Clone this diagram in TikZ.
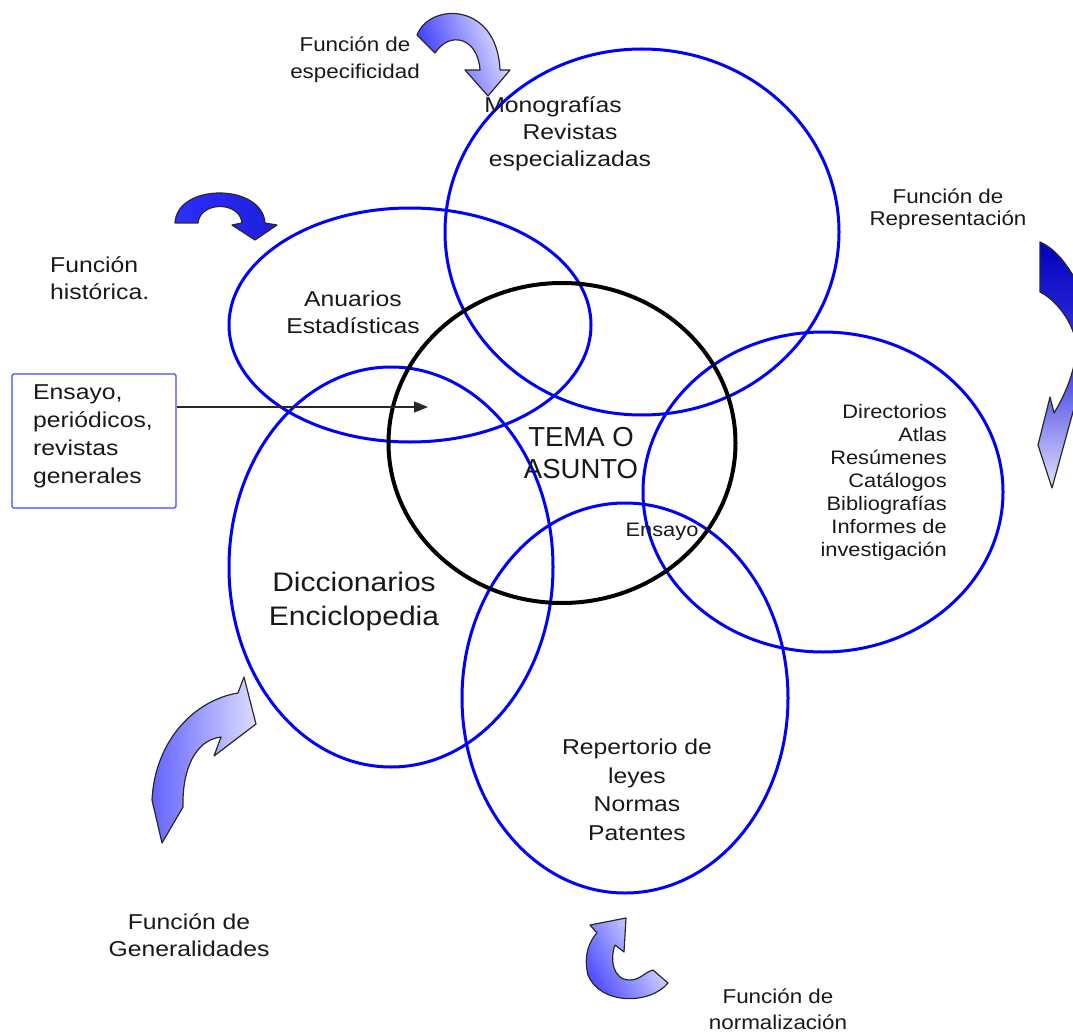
\documentclass[tikz,border=0pt]{standalone}
\usepackage{fontspec}
\setmainfont{Liberation Sans}[FakeStretch=1.12]
\newfontfamily\plainsans{Liberation Sans}
\newfontfamily\widesans{Liberation Sans}[FakeStretch=1.15]
\usetikzlibrary{shapes.geometric,arrows.meta}
\definecolor{ringblue}{RGB}{0,0,255}
\definecolor{boxblue}{RGB}{70,70,255}
\definecolor{txt}{RGB}{25,25,25}
\definecolor{outl}{RGB}{40,40,40}
\begin{document}
\begin{tikzpicture}[x=1pt,y=-1pt,
  ring/.style={draw=ringblue, line width=3pt, ellipse, inner sep=0pt},
  lbl/.style={text=txt, inner sep=0pt, align=center, font=\fontsize{20}{27}\selectfont},
  biglbl/.style={lbl, font=\widesans\fontsize{21.5}{27}\selectfont},
  curv/.style={draw=outl, line width=1.2pt, line join=round},
]
\useasboundingbox (0,0) rectangle (1073,1032);
\fill[white] (0,0) rectangle (1073,1032);

% blue ellipses
\node[ring, minimum width=394, minimum height=366] (mono) at (642,232) {};
\node[ring, minimum width=362, minimum height=234] (anu) at (410,325) {};
\node[ring, minimum width=360, minimum height=320] (dir) at (823,492) {};
\node[ring, minimum width=324, minimum height=400] (dic) at (391,567) {};
\node[ring, minimum width=326, minimum height=390] (rep) at (625,698) {};
% black circle
\node[draw=black, line width=4pt, ellipse, inner sep=0pt, minimum width=347, minimum height=320] (tema) at (562,443) {};

% box and arrow
\node[draw=boxblue, line width=1.2pt, rounded corners=1.5pt, inner sep=0pt, minimum width=164, minimum height=134] (box) at (94,441) {};
\node[biglbl, align=left, anchor=west, font=\widesans\fontsize{21.5}{28}\selectfont] (tbox) at (33,436) {Ensayo,\\periódicos,\\revistas\\generales};
\coordinate (arrtip) at (428,407);
\draw[draw=outl, line width=1.5pt, -{Triangle[length=14pt,width=11pt]}] (box.east |- arrtip) -- (arrtip);

% texts
\node[lbl] (fesp) at (355,60) {Función de\\especificidad};
\node[biglbl] (tmono) at (570,134) {Monografías\hspace*{34pt}\\Revistas\\especializadas};
\node[lbl, font=\fontsize{20}{22}\selectfont] (frep) at (948,209) {Función de\\Representación};
\node[biglbl, align=left, anchor=west] (fhist) at (50,278) {Función\\histórica.};
\node[biglbl] (tanu) at (353,312) {Anuarios\\Estadísticas};
\node[lbl, font=\plainsans\fontsize{27.5}{32}\selectfont] (ttema) at (581,453) {TEMA O\\ASUNTO};
\node[lbl, font=\fontsize{19.5}{27}\selectfont] (tens) at (662,532) {Ensayo};
\node[lbl, align=right, anchor=east, font=\fontsize{19.5}{23}\selectfont] (tdir) at (947,482) {Directorios\\Atlas\\Resúmenes\\Catálogos\\Bibliografías\\Informes de\\investigación};
\node[lbl, font=\fontsize{26.8}{34}\selectfont] (tdic) at (354,602) {Diccionarios\\Enciclopedia};
\node[biglbl, font=\widesans\fontsize{21.5}{28.5}\selectfont] (trep) at (637,790) {Repertorio de\\leyes\\Normas\\Patentes};
\node[biglbl] (fgen) at (189,935) {Función de\\Generalidades};
\node[lbl, font=\fontsize{20}{26}\selectfont] (fnor) at (778,1009) {Función de\\normalización};

% curved arrows
% A: especificidad
\shadedraw[curv, left color={rgb,255:red,50;green,50;blue,255}, right color={rgb,255:red,235;green,235;blue,255}, shading angle=110]
  (417,35) .. controls (430,2) and (497,2) .. (500,70) -- (510,70) -- (488,96) -- (465,70) -- (480,70)
  .. controls (478,38) and (450,30) .. (435,53) -- cycle;
% B: historica
\shadedraw[curv, left color={rgb,255:red,45;green,45;blue,255}, right color={rgb,255:red,30;green,30;blue,220}]
  (175,223) .. controls (177,183) and (262,183) .. (265,223) -- (277,225) -- (255,240) -- (232,225) -- (242,223)
  .. controls (240,201) and (200,201) .. (198,223) -- cycle;
% C: representacion (clipped at right edge)
\begin{scope}
\clip (0,0) rectangle (1073,1032);
\shadedraw[curv, top color={rgb,255:red,0;green,0;blue,190}, bottom color={rgb,255:red,225;green,225;blue,255}, middle color={rgb,255:red,60;green,60;blue,225}]
  (1040,242) .. controls (1070,255) and (1095,310) .. (1093,350) -- (1084,372) -- (1052,488) -- (1038,445) -- (1050,397) -- (1054,413)
  .. controls (1062,400) and (1072,380) .. (1076,355) .. controls (1080,335) and (1062,303) .. (1040,292) -- cycle;
\end{scope}
% D: generalidades
\shadedraw[curv, left color={rgb,255:red,100;green,100;blue,255}, right color={rgb,255:red,220;green,220;blue,255}]
  (162,843) -- (152,800) .. controls (155,740) and (195,700) .. (238,693) -- (244,677) -- (256,724) -- (214,756) -- (221,737)
  .. controls (195,740) and (182,770) .. (183,807) -- cycle;
% E: normalizacion
\shadedraw[curv, left color={rgb,255:red,70;green,70;blue,255}, right color={rgb,255:red,238;green,238;blue,255}, shading angle=120]
  (668,983) .. controls (650,1005) and (600,1005) .. (588,975) .. controls (583,955) and (590,940) .. (597,933) -- (590,925) -- (626,918) -- (624,952) -- (615,945)
  .. controls (610,958) and (612,980) .. (630,980) .. controls (640,980) and (645,972) .. (653,970) -- cycle;
\end{tikzpicture}
\end{document}
